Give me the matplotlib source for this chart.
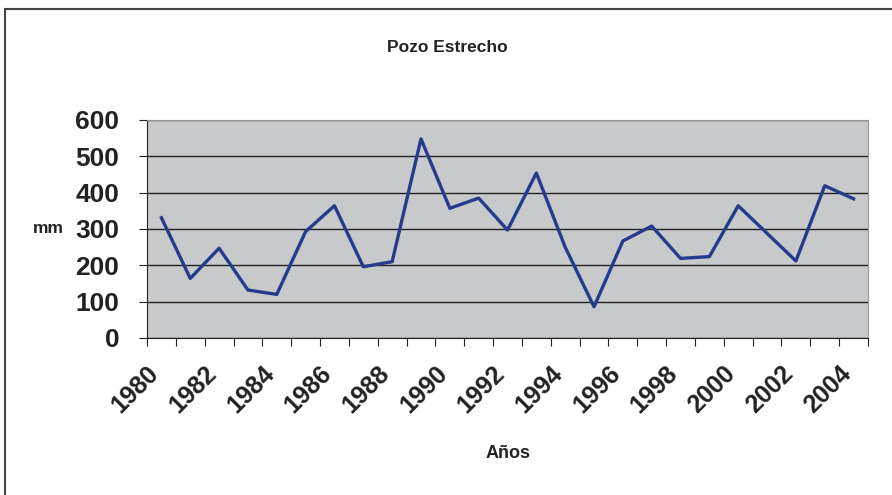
import matplotlib
matplotlib.use('Agg')
import matplotlib.pyplot as plt
import matplotlib.transforms as mtransforms
from matplotlib.patches import Rectangle

years = list(range(1980, 2005))
rain_mm = [331, 164, 247, 132, 120, 293, 364, 196, 210, 548,
           357, 385, 297, 454, 250, 86, 267, 308, 219, 224,
           364, 288, 212, 419, 383]
y_ticks = [0, 100, 200, 300, 400, 500, 600]

plt.rcParams['font.family'] = ['Liberation Sans', 'DejaVu Sans']

fig = plt.figure(figsize=(8.92, 4.95), dpi=100)
ax = fig.add_axes([0.1648, 0.3172, 0.8083, 0.4404])

# outer chart frame (only top/left visible in the original)
fig.patches.append(Rectangle((5 / 892, -0.1), 1.2, 1 - 9 / 495 + 0.1,
                             transform=fig.transFigure, fill=False,
                             edgecolor='#444444', linewidth=1.5))

pos = [i + 0.5 for i in range(len(years))]
ax.set_facecolor('#c8c9cb')
ax.plot(pos, rain_mm, color='#263b8e', linewidth=2.4, zorder=3)

ax.set_xlim(0, len(years))
ax.set_ylim(0, 600)
ax.set_yticks(y_ticks)
ax.set_yticklabels([str(v) for v in y_ticks], fontsize=19, fontweight='bold',
                   color='#222222')
ax.yaxis.grid(True, color='#222222', linewidth=1.0)
ax.set_axisbelow(True)

ax.set_xticks(range(len(years) + 1))
ax.set_xticklabels([])
ax.set_xticks(pos[::2], minor=True)
ax.set_xticklabels([str(y) for y in years[::2]], minor=True, rotation=45,
                   ha='right', va='top', rotation_mode='anchor',
                   fontsize=18, fontweight='bold', color='#222222')
ax.tick_params(axis='x', which='minor', length=0, pad=17)
ax.tick_params(axis='x', which='major', length=6, direction='out', color='#222222')
ax.tick_params(axis='y', length=6, direction='out', color='#222222', pad=14)

# nudge the rotated year labels a bit to the left, like the original
shift = mtransforms.ScaledTranslation(-15 / 100, 0, fig.dpi_scale_trans)
for lbl in ax.get_xticklabels(minor=True):
    lbl.set_transform(lbl.get_transform() + shift)

for s in ['top', 'right']:
    ax.spines[s].set_color('#999999')
for s in ['left', 'bottom']:
    ax.spines[s].set_color('#222222')

fig.text(447 / 892, 1 - 47 / 495, 'Pozo Estrecho', ha='center', va='center',
         fontsize=12.5, fontweight='bold', color='#222222')
fig.text(48 / 892, 1 - 228 / 495, 'mm', ha='center', va='center',
         fontsize=12.5, fontweight='bold', color='#222222')
fig.text(508 / 892, 1 - 453 / 495, 'Años', ha='center', va='center',
         fontsize=13, fontweight='bold', color='#222222')

fig.savefig('out.png', dpi=100)
